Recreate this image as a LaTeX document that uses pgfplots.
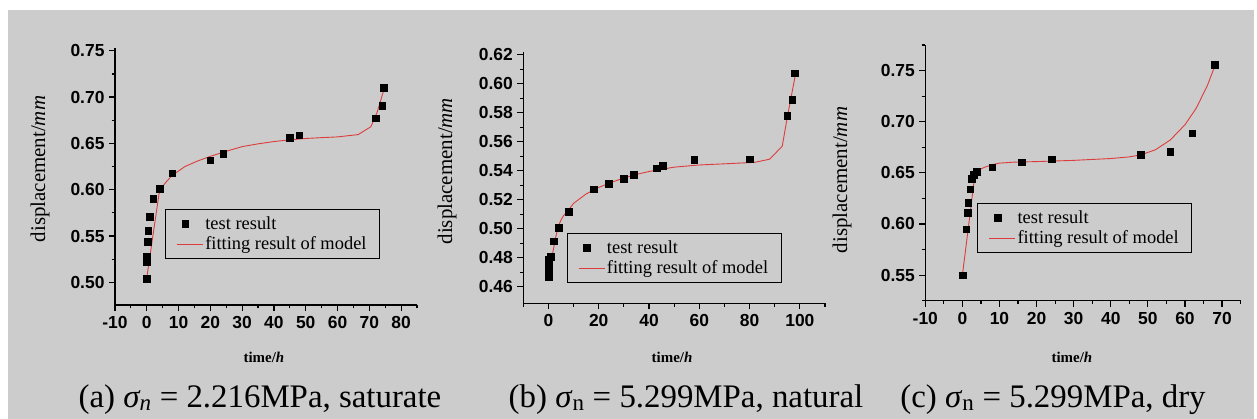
\documentclass[border=0pt]{standalone}
\usepackage{fontspec}
\setmainfont{Liberation Serif}
\setsansfont{Liberation Sans}
\usepackage{pgfplots}
\pgfplotsset{compat=1.18}

\definecolor{panel}{RGB}{204,204,204}
\definecolor{fitred}{RGB}{222,60,60}

\pgfplotsset{
  creep/.style={
    scale only axis,
    anchor=south west,
    axis x line*=bottom, axis y line*=left,
    axis line style={line width=1.5bp, -},
    tick align=outside,
    major tick length=6bp, minor tick length=3.5bp,
    tick style={black, line width=1.2bp},
    ticklabel style={font=\fontsize{17.5}{20}\selectfont\sffamily\bfseries},
    yticklabel style={xshift=-1bp},
    xticklabel style={yshift=-2bp},
    label style={font=\fontsize{21}{24}\selectfont},
    legend style={draw=black, line width=0.6bp, fill=panel,
      font=\fontsize{18.5}{22}\selectfont, anchor=north west,
      inner xsep=11bp, inner ysep=4bp, nodes={inner ysep=3bp}},
    legend cell align=left,
    clip=false,
  },
  test/.style={only marks, mark=square*, mark size=3.3bp, black},
  fit/.style={fitred, line width=0.9bp, no marks,
    legend image code/.code={\draw[##1] (0bp,0bp) -- (26bp,0bp);}},
}

\begin{document}
\begin{tikzpicture}
\fill[white] (0,0) rectangle (1257bp,419bp);
\fill[panel] (8bp,0) rectangle (1254bp,409bp);

% (a) saturate
\begin{axis}[creep, at={(115bp,114bp)}, width=302bp, height=257bp,
    xmin=-10, xmax=85, ymin=0.4755, ymax=0.753,
    xtick={-10,0,10,20,30,40,50,60,70,80},
    xticklabels={-10,0,10,20,30,40,50,60,70,80},
    minor xtick={-5,5,15,25,35,45,55,65,75,85},
    ytick={0.50,0.55,0.60,0.65,0.70,0.75},
    yticklabels={0.50,0.55,0.60,0.65,0.70,0.75},
    minor ytick={0.525,0.575,0.625,0.675,0.725},
    xlabel={\bfseries time/\textit{h}},
    ylabel={displacement/\textit{mm}},
    xlabel style={at={(axis description cs:0.493,-0.202)}, anchor=center, font=\fontsize{15}{18}\selectfont},
    ylabel style={at={(axis description cs:-0.248,0.529)}, anchor=center},
    legend style={at={(axis description cs:0.166,0.372)}},
]
\addplot[test] coordinates {
 (0,0.504)(0,0.522)(0,0.528)(0.25,0.544)(0.5,0.556)(1,0.571)(2,0.590)(4,0.601)
 (8,0.618)(20,0.632)(24,0.639)(45,0.656)(48,0.659)(72,0.677)(74,0.691)(74.5,0.710)
};
\addlegendentry{test result}
\addplot[fit] coordinates {
 (0,0.505)(1,0.5285)(2,0.552)(3,0.5755)(4,0.599)(6,0.608)(8,0.6155)(12,0.625)
 (16,0.631)(20,0.636)(25,0.6415)(30,0.6465)(35,0.6495)(40,0.652)(45,0.6538)
 (50,0.6553)(55,0.6562)(60,0.657)(66.5,0.6595)(70.5,0.668)(72.5,0.684)(74.5,0.707)
};
\addlegendentry{fitting result of model}
\end{axis}

% (b) natural
\begin{axis}[creep, at={(523.3bp,115.7bp)}, width=301.7bp, height=251.3bp,
    xmin=-10, xmax=110, ymin=0.4485, ymax=0.622,
    xtick={0,20,40,60,80,100},
    xticklabels={0,20,40,60,80,100},
    minor xtick={-10,10,30,50,70,90,110},
    ytick={0.46,0.48,0.50,0.52,0.54,0.56,0.58,0.60,0.62},
    yticklabels={0.46,0.48,0.50,0.52,0.54,0.56,0.58,0.60,0.62},
    minor ytick={0.47,0.49,0.51,0.53,0.55,0.57,0.59,0.61},
    xlabel={\bfseries time/\textit{h}},
    ylabel={displacement/\textit{mm}},
    xlabel style={at={(axis description cs:0.493,-0.214)}, anchor=center, font=\fontsize{15}{18}\selectfont},
    ylabel style={at={(axis description cs:-0.253,0.526)}, anchor=center},
    legend style={at={(axis description cs:0.144,0.279)}},
]
\addplot[test] coordinates {
 (0,0.467)(0,0.471)(0,0.4735)(0.1,0.4757)(0.2,0.4785)(1,0.4805)(2,0.4913)(4,0.5007)
 (8,0.5118)(18,0.5273)(24,0.5309)(30,0.5344)(34,0.5371)(43,0.5418)(45.5,0.5436)
 (58,0.5475)(80,0.548)(95,0.5781)(97,0.5891)(98,0.6074)
};
\addlegendentry{test result}
\addplot[fit] coordinates {
 (0,0.467)(1,0.477)(2,0.486)(3,0.495)(4,0.502)(5,0.506)(6,0.509)(8,0.513)
 (10,0.5175)(15,0.524)(20,0.5285)(25,0.532)(30,0.535)(35,0.5375)(40,0.5395)
 (45,0.541)(50,0.5425)(60,0.544)(70,0.5448)(82,0.5458)(88,0.548)(93,0.557)
 (95,0.577)(98.2,0.606)
};
\addlegendentry{fitting result of model}
\end{axis}

% (c) dry
\begin{axis}[creep, at={(925.3bp,118.3bp)}, width=315.3bp, height=255.7bp,
    xmin=-10, xmax=75, ymin=0.525, ymax=0.775,
    xtick={-10,0,10,20,30,40,50,60,70},
    xticklabels={-10,0,10,20,30,40,50,60,70},
    minor xtick={-5,5,15,25,35,45,55,65,75},
    ytick={0.55,0.60,0.65,0.70,0.75},
    yticklabels={0.55,0.60,0.65,0.70,0.75},
    minor ytick={0.525,0.575,0.625,0.675,0.725,0.775},
    xlabel={\bfseries time/\textit{h}},
    ylabel={displacement/\textit{mm}},
    xlabel style={at={(axis description cs:0.465,-0.22)}, anchor=center, font=\fontsize{15}{18}\selectfont},
    ylabel style={at={(axis description cs:-0.264,0.472)}, anchor=center},
    legend style={at={(axis description cs:0.165,0.381)}},
]
\addplot[test] coordinates {
 (0,0.550)(1,0.595)(1.35,0.6113)(1.6,0.6208)(2.05,0.6342)(2.5,0.644)(3,0.648)
 (3.9,0.651)(8,0.6554)(16,0.6606)(24,0.6632)(48,0.6675)(56,0.6707)(62,0.6887)(68,0.7559)
};
\addlegendentry{test result}
\addplot[fit] coordinates {
 (0,0.550)(1,0.579)(2,0.608)(3.4,0.6495)(4.5,0.653)(6,0.6555)(8,0.658)(10,0.6595)
 (14,0.6605)(20,0.661)(30,0.6622)(40,0.664)(45,0.6656)(48,0.6675)(52,0.6725)
 (56,0.682)(60,0.697)(63,0.713)(66,0.735)(68,0.754)
};
\addlegendentry{fitting result of model}
\end{axis}

\node[font=\fontsize{33}{36}\selectfont, anchor=base] at (260bp,12bp)
  {(a) \textit{σ\textsubscript{n}} = 2.216MPa, saturate};
\node[font=\fontsize{33}{36}\selectfont, anchor=base] at (686bp,12bp)
  {(b) \textit{σ}\textsubscript{n} = 5.299MPa, natural};
\node[font=\fontsize{33}{36}\selectfont, anchor=base] at (1053bp,12bp)
  {(c) \textit{σ}\textsubscript{n} = 5.299MPa, dry};

\pgfresetboundingbox
\useasboundingbox (0,0) rectangle (1257bp,419bp);
\end{tikzpicture}
\end{document}
